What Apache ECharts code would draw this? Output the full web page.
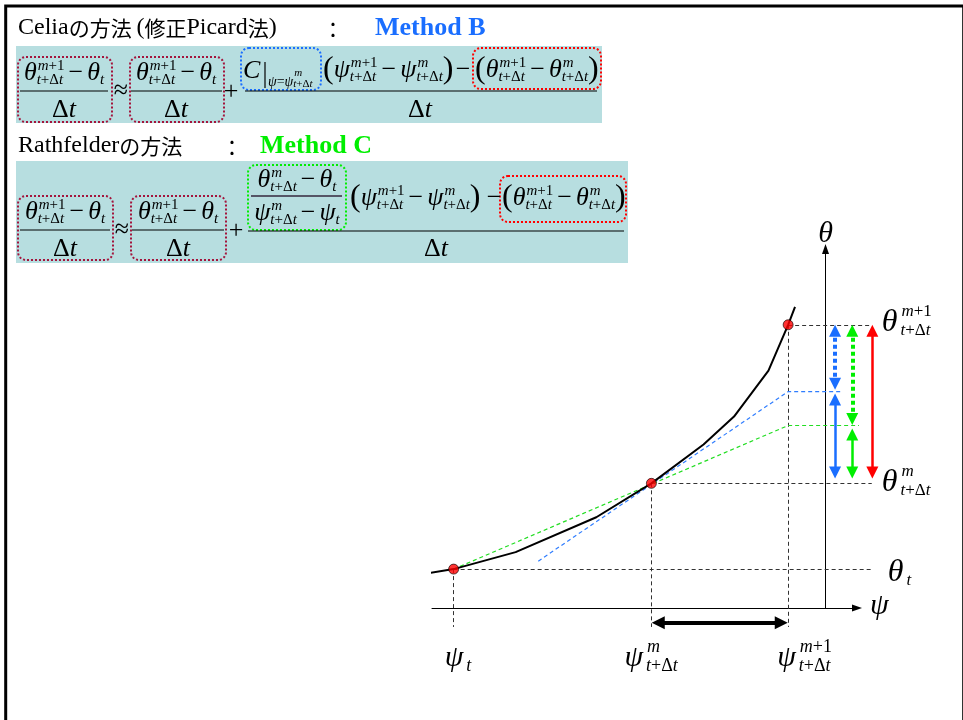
<!DOCTYPE html>
<html>
<head>
<meta charset="utf-8">
<script src="https://cdn.jsdelivr.net/npm/echarts@6/dist/echarts.min.js"></script>
<style>
html, body { margin: 0; padding: 0; background: #fff; }
#main { width: 963px; height: 720px; }
</style>
</head>
<body>
<div id="main"></div>
<script>
// Retention curve θ(ψ); ψ < 0 so the θ axis sits at ψ = 0
const curvePsi   = [-41.5, -37.8, -31.5, -23.3, -17.7, -12.4, -9.3, -5.8, -3.8, -3.1];
const curveTheta = [3.3, 3.9, 5.6, 9.1, 12.5, 16.4, 19.2, 23.8, 28.4, 30.2];

// Iteration points: ψ_t, ψ^m_{t+Δt}, ψ^{m+1}_{t+Δt}
const iterPsi   = [-37.8, -17.7, -3.8];
const iterTheta = [3.9, 12.5, 28.4];

// Method B: tangent through ψ^m ; Method C: chord through ψ_t and ψ^m
const tangentPsi   = [-29.2, -3.8];
const tangentTheta = [4.7, 21.7];
const chordPsi     = [-37.8, -3.8];
const chordTheta   = [3.9, 18.3];

// Extents of the guide lines
const guideEndPsi      = 4.7;
const tangentEndPsi    = 1.65;
const chordEndPsi      = 4.5;
const guideFootTheta   = -1.9;

// Increment arrows on the θ side: [ψ, θ from, θ to]
const blueDottedArrow  = [0.97, 27.8, 22.5];
const blueSolidArrow   = [0.97, 20.9, 13.6];
const greenDottedArrow = [2.72, 27.8, 18.95];
const greenSolidArrow  = [2.72, 17.4, 13.6];
const redArrow         = [4.76, 27.8, 13.6];
// Δψ arrow under the ψ axis: [θ, ψ from, ψ to]
const stepArrow        = [-1.47, -17.0, -4.5];

// Axis ranges
const psiRange   = [-40, 3.2];
const thetaRange = [0, 36];

const BLUE  = '#1a6eff';
const GREEN = '#00ee00';
const RED   = '#ff0000';
const DARKRED = '#a3143c';

const chart = echarts.init(document.getElementById('main'));

const dashBlack = { color: '#333', width: 1, type: [4, 3], opacity: 1 };
const P = (i) => [iterPsi[i], iterTheta[i]];

const guides = [
  [P(2), [guideEndPsi, iterTheta[2]]],
  [P(1), [guideEndPsi, iterTheta[1]]],
  [P(0), [guideEndPsi, iterTheta[0]]],
  [P(0), [iterPsi[0], guideFootTheta]],
  [P(1), [iterPsi[1], guideFootTheta]],
  [P(2), [iterPsi[2], guideFootTheta]]
];

function vArrow(a, color, width, dash, head) {
  return {
    type: 'lines', coordinateSystem: 'cartesian2d', clip: false, silent: true, z: 8,
    symbol: ['triangle', 'triangle'], symbolSize: head,
    lineStyle: { color: color, width: width, type: dash || 'solid', opacity: 1 },
    data: [{ coords: [[a[0], a[1]], [a[0], a[2]]] }]
  };
}

const axisCommon = {
  type: 'value',
  axisTick: { show: false },
  axisLabel: { show: false },
  splitLine: { show: false },
  axisLine: {
    show: true, onZero: true,
    symbol: ['none', 'triangle'], symbolSize: [7, 10],
    lineStyle: { color: '#000', width: 1 }
  }
};

chart.setOption({
  backgroundColor: '#fff',
  animation: false,
  grid: { left: 432, top: 249, width: 425, height: 359, containLabel: false },
  xAxis: Object.assign({}, axisCommon, { min: psiRange[0], max: psiRange[1] }),
  yAxis: Object.assign({}, axisCommon, { min: thetaRange[0], max: thetaRange[1] }),
  series: [
    {
      type: 'lines', coordinateSystem: 'cartesian2d', clip: false, silent: true, z: 2,
      symbol: 'none', lineStyle: dashBlack,
      data: guides.map(c => ({ coords: c }))
    },
    {
      type: 'line', clip: false, silent: true, z: 3, symbol: 'none',
      lineStyle: { color: '#2f7dff', width: 1.2, type: [4, 3] },
      data: [[tangentPsi[0], tangentTheta[0]], [tangentPsi[1], tangentTheta[1]], [tangentEndPsi, tangentTheta[1]]]
    },
    {
      type: 'line', clip: false, silent: true, z: 3, symbol: 'none',
      lineStyle: { color: '#22dd22', width: 1.2, type: [4, 3] },
      data: [[chordPsi[0], chordTheta[0]], [chordPsi[1], chordTheta[1]], [chordEndPsi, chordTheta[1]]]
    },
    {
      type: 'line', clip: false, silent: true, z: 4, symbol: 'none',
      lineStyle: { color: '#000', width: 2 },
      data: curvePsi.map((p, i) => [p, curveTheta[i]])
    },
    {
      type: 'scatter', clip: false, silent: true, z: 6, symbolSize: 10,
      itemStyle: { color: RED, borderColor: '#000', borderWidth: 0.8 },
      data: iterPsi.map((p, i) => [p, iterTheta[i]])
    },
    vArrow(blueDottedArrow, BLUE, 4, [4, 3], 12),
    vArrow(blueSolidArrow, BLUE, 2.5, 'solid', 12),
    vArrow(greenDottedArrow, GREEN, 4, [4, 3], 12),
    vArrow(greenSolidArrow, GREEN, 2.5, 'solid', 12),
    vArrow(redArrow, RED, 2.5, 'solid', 12),
    {
      type: 'lines', coordinateSystem: 'cartesian2d', clip: false, silent: true, z: 8,
      symbol: ['triangle', 'triangle'], symbolSize: 13,
      lineStyle: { color: '#000', width: 4, opacity: 1 },
      data: [{ coords: [[stepArrow[1], stepArrow[0]], [stepArrow[2], stepArrow[0]]] }]
    }
  ]
});

// ---------- small math typesetter for the formulas and labels ----------
const SERIF = '"Liberation Serif", "Times New Roman", serif';
const JP = '"Noto Sans CJK JP", "Noto Sans CJK SC", sans-serif';
const mc = document.createElement('canvas').getContext('2d');
const fnt = (size, it, bold, fam) => (it ? 'italic ' : '') + (bold ? 'bold ' : '') + size + 'px ' + (fam || SERIF);
function tw(s, size, it) { mc.font = fnt(size, it); return mc.measureText(s).width; }

// letters italic, digits / operators / Δ upright
function mix(str, size) {
  const items = [];
  let x = 0, buf = '', cur = null;
  const flush = () => {
    if (!buf) return;
    items.push({ s: buf, size: size, it: cur, x: x, dy: 0 });
    x += tw(buf, size, cur);
    buf = '';
  };
  for (const ch of str) {
    const it = /[a-zA-Zθψ]/.test(ch);
    if (cur !== null && it !== cur) flush();
    cur = it;
    buf += ch;
  }
  flush();
  return { w: x, items: items };
}
const gap = w => ({ w: w, items: [] });
function hcat() {
  const items = []; let x = 0;
  Array.from(arguments).forEach(b => {
    b.items.forEach(i => items.push(Object.assign({}, i, { x: i.x + x })));
    x += b.w;
  });
  return { w: x, items: items };
}
const shift = (b, dx, dy) => b.items.map(i => Object.assign({}, i, { x: i.x + dx, dy: i.dy + dy }));
function scr(base, sup, sub, supDy, subDy, kern) {
  const k = kern || 1;
  const items = base.items.slice();
  let w = 0;
  if (sup) { items.push.apply(items, shift(sup, base.w + k, supDy)); w = Math.max(w, sup.w + k); }
  if (sub) { items.push.apply(items, shift(sub, base.w + k - 1, subDy)); w = Math.max(w, sub.w + k - 1); }
  return { w: base.w + w, items: items };
}
function draw(b, x, yc, color) {
  return b.items.map(i => ({
    type: 'text', x: x + i.x, y: yc + i.dy, z: 20, silent: true,
    style: {
      text: i.s, font: fnt(i.size, i.it), fill: color || '#000',
      align: 'left', verticalAlign: 'middle', textAlign: 'left', textVerticalAlign: 'middle'
    }
  }));
}
const drawC = (b, cx, yc, c) => draw(b, cx - b.w / 2, yc, c);

const hline = (x1, x2, y, c, w) => ({
  type: 'line', z: 20, silent: true, shape: { x1: x1, y1: y, x2: x2, y2: y },
  style: { stroke: c || '#000', lineWidth: w || 1.2 }
});
const vline = (x, y1, y2) => ({
  type: 'line', z: 20, silent: true, shape: { x1: x, y1: y1, x2: x, y2: y2 },
  style: { stroke: '#000', lineWidth: 1.2 }
});
const dotBox = (x, y, w, h, c) => ({
  type: 'rect', z: 15, silent: true, shape: { x: x, y: y, width: w, height: h, r: 8 },
  style: { fill: 'none', stroke: c, lineWidth: 2, lineDash: [2, 2] }
});
const band = (x, y, w, h) => ({
  type: 'rect', z: 1, silent: true, shape: { x: x, y: y, width: w, height: h },
  style: { fill: '#b7dee0' }
});

const F = 26, S = 15;
const sym = (g, sup, sub) => scr(mix(g, F), sup && mix(sup, S), sub && mix(sub, S), -6.5, 7);
const minus = () => hcat(gap(4), mix('−', F), gap(4));
const lhs = hcat(sym('θ', 'm+1', 't+Δt'), minus(), sym('θ', null, 't'));
const dt = mix('Δt', F);
const paren = c => mix(c, 32);
const psiDiff = hcat(paren('('), sym('ψ', 'm+1', 't+Δt'), minus(), sym('ψ', 'm', 't+Δt'), paren(')'));
const thDiff  = hcat(paren('('), sym('θ', 'm+1', 't+Δt'), minus(), sym('θ', 'm', 't+Δt'), paren(')'));
const cSub = scr(mix('ψ=ψ', 14), mix('m', 11), mix('t+Δt', 11), -8.5, 2.5);

const title = (x, y, latinJp) => ({
  type: 'text', x: x, y: y, z: 20, silent: true,
  style: {
    text: latinJp, verticalAlign: 'middle', textVerticalAlign: 'middle', fill: '#000',
    rich: {
      l: { fontFamily: SERIF, fontSize: 24, fill: '#000', color: '#000' },
      j: { fontFamily: JP, fontSize: 21, fill: '#000', color: '#000' }
    }
  }
});
const plain = (x, y, text, font, fill, align) => ({
  type: 'text', x: x, y: y, z: 20, silent: true,
  style: { text: text, font: font, fill: fill, align: align || 'left', textAlign: align || 'left',
           verticalAlign: 'middle', textVerticalAlign: 'middle' }
});

let G = [];
// slide frame
G.push({ type: 'rect', z: 0, silent: true, shape: { x: 5.7, y: 6, width: 958, height: 800 },
         style: { fill: 'none', stroke: '#000', lineWidth: 3 } });

// Celia (modified Picard)
G.push(title(18, 28, '{l|Celia}{j|の方法}{l|\u2009(}{j|修正}{l|Picard}{j|法}{l|)}'));
G.push(plain(333, 29, '：', '21px ' + JP, '#000', 'center'));
G.push(plain(375, 28, 'Method B', 'bold 26px ' + SERIF, BLUE));
G.push(band(16, 46, 586, 77));
G.push(dotBox(18, 57, 94, 65, DARKRED), dotBox(130, 57, 94, 65, DARKRED),
       dotBox(241, 48, 80, 42, BLUE), dotBox(473, 48, 128, 41, RED));
G = G.concat(drawC(lhs, 64, 73), [hline(20, 108, 91)], drawC(dt, 64, 110));
G = G.concat(drawC(mix('≈', F), 121, 91));
G = G.concat(drawC(lhs, 176, 73), [hline(131, 222, 91)], drawC(dt, 176, 110));
G = G.concat(drawC(mix('+', F), 231, 92));
G.push(hline(245, 597, 91));
G = G.concat(draw(mix('C', F), 243, 71), [vline(265, 62, 88)], draw(cSub, 268, 82));
G = G.concat(draw(psiDiff, 323, 70), drawC(mix('−', F), 463, 70), draw(thDiff, 475, 70));
G = G.concat(drawC(dt, 420, 110));

// Rathfelder
G.push(title(18, 146, '{l|Rathfelder}{j|の方法}'));
G.push(plain(232, 147, '：', '21px ' + JP, '#000', 'center'));
G.push(plain(260, 146, 'Method C', 'bold 26px ' + SERIF, GREEN));
G.push(band(16, 161, 612, 102));
G.push(dotBox(18, 196, 95, 64, DARKRED), dotBox(131, 196, 95, 64, DARKRED),
       dotBox(248, 165, 98, 65, GREEN), dotBox(500, 176, 126, 46, RED));
G = G.concat(drawC(lhs, 65, 212), [hline(20, 110, 230)], drawC(dt, 65, 249));
G = G.concat(drawC(mix('≈', F), 122, 230));
G = G.concat(drawC(lhs, 178, 212), [hline(132, 224, 230)], drawC(dt, 178, 249));
G = G.concat(drawC(mix('+', F), 236, 231));
G.push(hline(248, 624, 231));
G = G.concat(drawC(hcat(sym('θ', 'm', 't+Δt'), minus(), sym('θ', null, 't')), 297, 180));
G.push(hline(251, 342, 196, '#556', 2));
G = G.concat(drawC(hcat(sym('ψ', 'm', 't+Δt'), minus(), sym('ψ', null, 't')), 297, 213));
G = G.concat(draw(psiDiff, 350, 198), drawC(mix('−', F), 494, 198), draw(thDiff, 502, 198));
G = G.concat(drawC(dt, 436, 249));

// diagram labels, anchored through the grid's scales
const px = (p, t) => chart.convertToPixel({ gridIndex: 0 }, [p, t]);
const lab = (g, sup, sub, L, LS) => scr(mix(g, L), sup && mix(sup, LS), sub && mix(sub, LS), -11, 8, 4);

const axTop = px(0, thetaRange[1]);
G = G.concat(drawC(mix('θ', 30), axTop[0], axTop[1] - 15));
const axRight = px(psiRange[1], 0);
G = G.concat(draw(mix('ψ', 30), axRight[0] + 13, axRight[1] - 2));

const gEnd = (t) => px(guideEndPsi, t);
G = G.concat(draw(lab('θ', 'm+1', 't+Δt', 32, 17), gEnd(iterTheta[2])[0] + 10, gEnd(iterTheta[2])[1] - 2));
G = G.concat(draw(lab('θ', 'm', 't+Δt', 32, 17), gEnd(iterTheta[1])[0] + 10, gEnd(iterTheta[1])[1] - 1));
G = G.concat(draw(lab('θ', null, 't', 32, 17), gEnd(iterTheta[0])[0] + 16, gEnd(iterTheta[0])[1] + 3));

const foot = (i) => px(iterPsi[i], thetaRange[0]);
G = G.concat(draw(lab('ψ', null, 't', 30, 18), foot(0)[0] - 9, foot(0)[1] + 50));
G = G.concat(draw(lab('ψ', 'm', 't+Δt', 30, 18), foot(1)[0] - 27, foot(1)[1] + 50));
G = G.concat(draw(lab('ψ', 'm+1', 't+Δt', 30, 18), foot(2)[0] - 11, foot(2)[1] + 50));

chart.setOption({ graphic: { elements: G } });
</script>
</body>
</html>
